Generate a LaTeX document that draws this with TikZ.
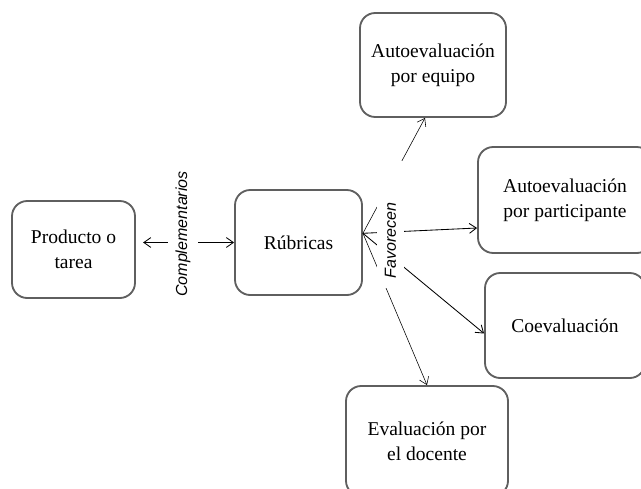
\documentclass[tikz,border=0pt]{standalone}
\usepackage{fontspec}
\setmainfont{Liberation Serif}
\setsansfont{Liberation Sans}
\usetikzlibrary{arrows.meta, positioning}
\definecolor{boxgray}{RGB}{95,95,95}

\begin{document}
\begin{tikzpicture}[
    % Styles
    box/.style={
        draw=boxgray, line width=1.3pt, rounded corners=0.38cm,
        fill=white, align=center, font=\fontsize{13.9}{17.8}\selectfont,
        inner sep=0pt
    },
    link/.style={
        -{Straight Barb[length=5pt,width=7pt]}, black
    },
    dlink/.style={
        {Straight Barb[length=5pt,width=7pt]}-{Straight Barb[length=5pt,width=7pt]}, black, semithick
    },
    tag/.style={
        rotate=90, fill=white, inner xsep=2pt, inner ysep=0pt,
        font=\sffamily\itshape\fontsize{11.4}{13}\selectfont
    }
]
\clip (0,0) rectangle (16.025,12.2);

% The boxes
\node[box, minimum width=3.075cm, minimum height=2.425cm] (prod) at (1.8375,5.9625) {Producto o\\tarea};
\node[box, minimum width=3.175cm, minimum height=2.625cm] (rub) at (7.4625,6.1375) {Rúbricas};
\node[box, minimum width=3.65cm, minimum height=2.6cm] (equipo) at (10.825,10.575) {Autoevaluación\\por equipo};
\node[box, minimum width=4.35cm, minimum height=2.65cm] (partic) at (14.125,7.2) {Autoevaluación\\por participante};
\node[box, minimum width=4.0cm, minimum height=2.625cm] (coev) at (14.125,4.0625) {Coevaluación};
\node[box, minimum width=4.05cm, minimum height=2.75cm] (docente) at (10.675,1.175) {Evaluación por\\el docente};

% Complementarios
\draw[dlink, shorten <=0.18cm] (rub.west -| prod.east) -- (rub.west);
\node[tag, minimum height=0.75cm] (compl) at (4.575,6.35) {Complementarios};

% Favorecen
\coordinate (fan) at ([yshift=0.23cm]rub.east);
\draw[link] (fan) -- ([xshift=-0.2cm]equipo.south);
\draw[link, semithick] (fan) -- ([yshift=-0.7cm]partic.west);
\draw[link, semithick] (fan) -- ([yshift=-0.2cm]coev.west);
\draw[link] (fan) -- (docente.north);
\node[tag, minimum height=0.675cm, text width=2.675cm, align=left, inner xsep=0.25cm] (fav) at (9.7625,6.5875) {Favorecen};

\end{tikzpicture}
\end{document}
